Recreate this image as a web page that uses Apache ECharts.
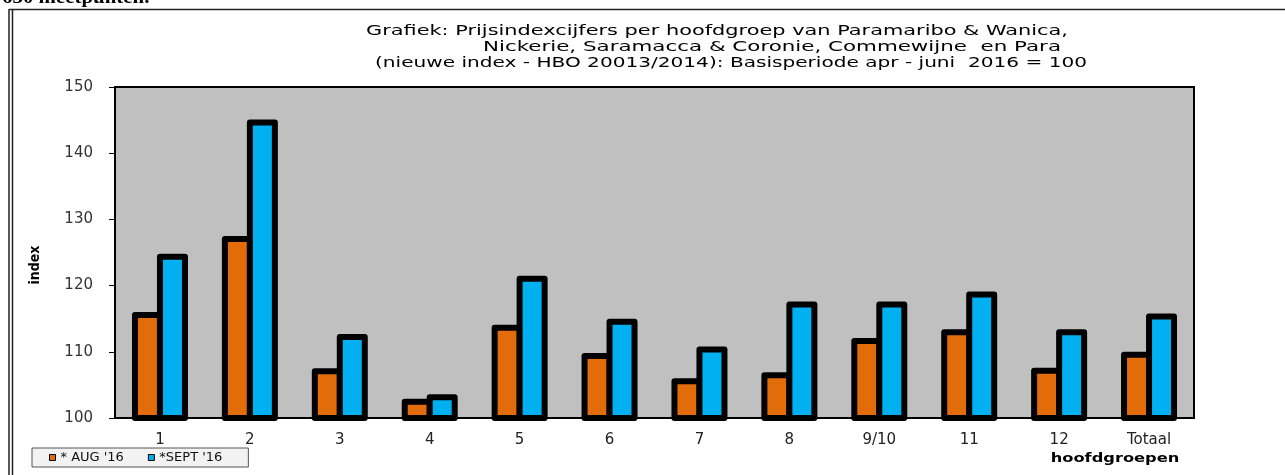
<!DOCTYPE html>
<html lang="nl">
<head>
  <meta charset="UTF-8">
  <title>Prijsindexcijfers per hoofdgroep</title>
  <script src="https://cdn.jsdelivr.net/npm/echarts@6/dist/echarts.min.js"></script>
  <style>
    html, body { margin: 0; padding: 0; background: #fff; }
    #chart { width: 1285px; height: 475px; }
  </style>
</head>
<body>
  <div id="chart"></div>
  <script>
    const categories = ['1', '2', '3', '4', '5', '6', '7', '8', '9/10', '11', '12', 'Totaal']
    const aug16 = [116.0, 127.5, 107.5, 102.9, 114.1, 109.8, 106.0, 106.9, 112.1, 113.4, 107.6, 110.0]
    const sept16 = [124.8, 145.1, 112.7, 103.6, 121.5, 115.0, 110.8, 117.6, 117.6, 119.1, 113.4, 115.8]
    const titleLines = [
      'Grafiek: Prijsindexcijfers per hoofdgroep van Paramaribo & Wanica,',
      'Nickerie, Saramacca & Coronie, Commewijne  en Para',
      '(nieuwe index - HBO 20013/2014): Basisperiode apr - juni  2016 = 100'
    ]

    const chart = echarts.init(document.getElementById('chart'), null, { renderer: 'canvas' })
    const titleFont = '14px "DejaVu Sans", sans-serif'
    const labelFont = 'DejaVu Sans'

    // the original picture is stretched sideways, so the title lines get a scaleX
    const ctx = document.createElement('canvas').getContext('2d')
    function stretch(text, font, width) {
      ctx.font = font
      return width / ctx.measureText(text).width
    }

    const barStyle = color => ({
      color: color,
      borderColor: '#000',
      borderWidth: 6,
      borderJoin: 'round'
    })

    // [left x, centre y, target width]
    const titlePos = [[366, 31, 702], [483, 47, 578], [375, 63, 712]]

    const option = {
      animation: false,
      backgroundColor: '#fff',
      grid: {
        left: 115,
        right: 91,
        top: 87,
        bottom: 57,
        show: true,
        backgroundColor: '#c0c0c0',
        borderColor: '#000',
        borderWidth: 2
      },
      legend: {
        left: 32,
        top: 448,
        padding: [3, 26, 3, 17],
        itemGap: 24,
        itemWidth: 6,
        itemHeight: 6,
        icon: 'rect',
        backgroundColor: '#f2f2f2',
        borderColor: '#555',
        borderWidth: 1,
        borderRadius: 0,
        textStyle: { fontFamily: labelFont, fontSize: 13, color: '#111' },
        data: [
          { name: "* AUG '16", itemStyle: { borderColor: '#000', borderWidth: 1 } },
          { name: "*SEPT '16", itemStyle: { borderColor: '#000', borderWidth: 1 } }
        ]
      },
      xAxis: {
        type: 'category',
        data: categories,
        axisLine: { lineStyle: { color: '#000', width: 2 } },
        axisTick: { length: 6, lineStyle: { color: '#000' } },
        axisLabel: { margin: 15, fontSize: 15, color: '#222', fontFamily: labelFont }
      },
      yAxis: {
        type: 'value',
        min: 100,
        max: 150,
        interval: 10,
        splitLine: { show: false },
        axisLine: { show: true, lineStyle: { color: '#000', width: 2 } },
        axisTick: { show: true, length: 6, lineStyle: { color: '#000' } },
        axisLabel: { margin: 22, fontSize: 15, color: '#333', fontFamily: labelFont }
      },
      series: [
        {
          name: "* AUG '16",
          type: 'bar',
          barWidth: 31,
          barGap: '-19.4%',
          data: aug16,
          itemStyle: barStyle('#e36c0a')
        },
        {
          name: "*SEPT '16",
          type: 'bar',
          barWidth: 31,
          barGap: '-19.4%',
          data: sept16,
          itemStyle: barStyle('#00b0f0')
        }
      ],
      graphic: [
        // page frame around the chart
        { type: 'line', shape: { x1: 9, y1: 9.5, x2: 1285, y2: 9.5 }, style: { stroke: '#222', lineWidth: 1.5 } },
        { type: 'line', shape: { x1: 9, y1: 9, x2: 9, y2: 475 }, style: { stroke: '#222', lineWidth: 1.5 } },
        { type: 'line', shape: { x1: 12.5, y1: 9, x2: 12.5, y2: 475 }, style: { stroke: '#222', lineWidth: 1.5 } },
        {
          type: 'text', x: 2, y: 8, scaleX: 1.1,
          style: { text: '630 meetpunten.', font: 'bold 19px "Liberation Serif", serif', fill: '#000', verticalAlign: 'bottom' }
        },
        ...titleLines.map((t, i) => ({
          type: 'text',
          x: titlePos[i][0],
          y: titlePos[i][1],
          scaleX: stretch(t, titleFont, titlePos[i][2]),
          style: { text: t, font: titleFont, fill: '#000', verticalAlign: 'middle' }
        })),
        {
          type: 'text', x: 35, y: 265, rotation: Math.PI / 2,
          style: { text: 'index', font: 'bold 14px "Liberation Sans Narrow", "DejaVu Sans Condensed", sans-serif', fill: '#000', align: 'center', verticalAlign: 'middle' }
        },
        {
          type: 'text', x: 1115, y: 459, scaleX: 1.25,
          style: { text: 'hoofdgroepen', font: 'bold 13px "DejaVu Sans", sans-serif', fill: '#000', align: 'center', verticalAlign: 'middle' }
        }
      ]
    }

    chart.setOption(option)
  </script>
</body>
</html>
